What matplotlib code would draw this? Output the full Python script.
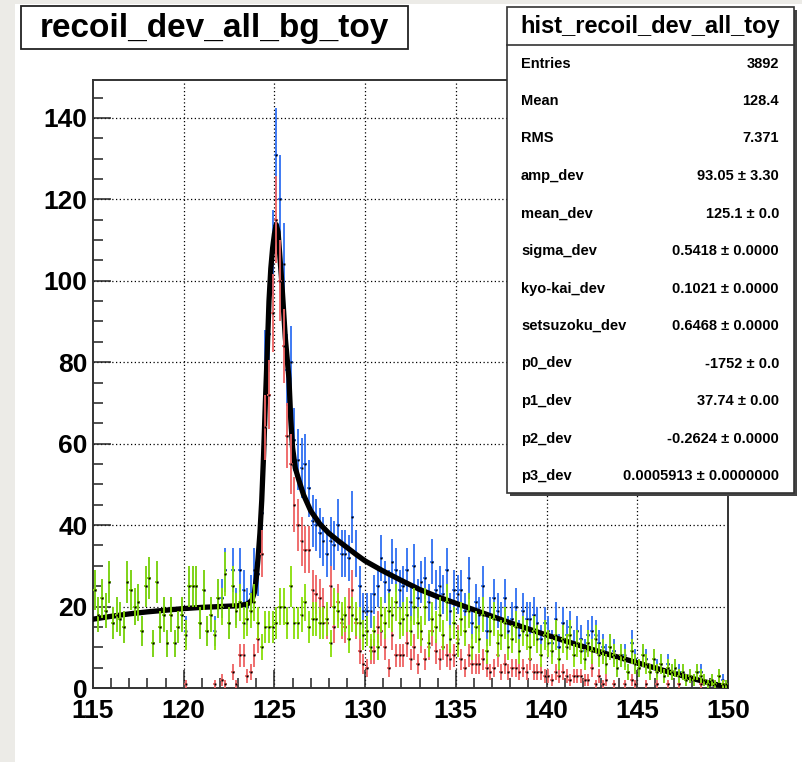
import numpy as np
import matplotlib.pyplot as plt
from matplotlib.patches import Rectangle
from matplotlib.ticker import MultipleLocator

plt.rcParams['font.family'] = ['Liberation Sans', 'DejaVu Sans']

W, H = 802, 762

# histogram binning (0.2 wide bins from 115 to 150)
bin_lo = 115.0
bin_w = 0.2

# blue: all events (hist_recoil_dev_all_toy), one row per unit of x
total = [
    24, 18, 22, 19, 26,   16, 18, 17, 15, 26,   24, 20, 21, 14, 25,
    27, 11, 26, 15, 18,   11, 18, 11, 15, 18,   14, 25, 25, 25, 16,
    24, 14, 18, 14, 22,   22, 29, 16, 29, 20,   29, 24, 20, 23, 29,
    28, 43, 79, 87, 107,  131, 120, 104, 78, 80, 61, 56, 54, 55, 49,
    41, 40, 38, 36, 33,   36, 35, 40, 33, 33,   32, 42, 33, 25, 19,
    19, 19, 23, 25, 32,   26, 24, 31, 29, 24,   25, 29, 21, 30, 22,
    26, 27, 21, 31, 24,   25, 23, 29, 19, 24,   23, 24, 19, 27, 16,
    21, 18, 25, 14, 18,   22, 19, 17, 22, 14,   17, 20, 13, 19, 17,
    17, 18, 16, 12, 16,   14, 11, 17, 10, 16,   13, 15, 11, 14, 12,
    9, 13, 14, 13, 11,    10, 8, 10, 9, 5,      8, 8, 4, 11, 7,
    5, 8, 7, 4, 7,        5, 6, 3, 6, 4,        5, 4, 4, 2, 3,
    2, 4, 4, 2, 1,        2, 1, 3, 2, 1,
]

# red: signal part
signal = [
    0, 0, 0, 0, 0,        0, 0, 0, 0, 0,        0, 0, 0, 0, 0,
    0, 0, 0, 0, 0,        0, 0, 0, 0, 0,        1, 0, 0, 0, 0,
    0, 0, 0, 1, 0,        2, 1, 0, 4, 1,        8, 8, 3, 4, 8,
    12, 33, 64, 72, 92,   115, 100, 84, 62, 55, 45, 40, 36, 34, 34,
    24, 23, 22, 20, 16,   25, 15, 21, 16, 15,   20, 24, 16, 9, 6,
    5, 9, 9, 15, 14,      10, 5, 13, 8, 8,      8, 11, 7, 10, 6,
    12, 7, 10, 14, 9,     7, 10, 8, 7, 8,       12, 7, 5, 8, 6,
    6, 6, 7, 5, 4,        5, 8, 4, 6, 4,        5, 5, 4, 5, 4,
    7, 4, 4, 4, 3,        3, 2, 4, 3, 4,        3, 2, 3, 3, 3,
    2, 2, 5, 1, 3,        1, 2, 0, 1, 0,        0, 1, 0, 2, 1,
    0, 0, 1, 0, 0,        1, 0, 0, 1, 0,        0, 1, 0, 0, 0,
    0, 0, 1, 0, 0,        0, 0, 0, 1, 0,
]

# green: background toy
background = [
    24, 18, 22, 19, 26,   16, 18, 17, 15, 26,   24, 20, 21, 14, 25,
    27, 11, 26, 15, 18,   11, 18, 11, 15, 18,   13, 25, 25, 25, 16,
    24, 14, 18, 13, 22,   20, 28, 16, 25, 19,   21, 16, 17, 19, 21,
    16, 10, 15, 15, 15,   16, 20, 20, 16, 25,   16, 16, 18, 21, 15,
    17, 17, 16, 16, 17,   11, 20, 19, 17, 18,   12, 18, 17, 16, 13,
    14, 10, 14, 10, 18,   16, 19, 18, 21, 16,   17, 18, 14, 20, 16,
    14, 20, 11, 17, 15,   18, 13, 21, 12, 16,   11, 17, 14, 19, 10,
    15, 12, 18, 9, 14,    17, 11, 13, 16, 10,   12, 15, 9, 14, 13,
    10, 14, 12, 8, 13,    11, 9, 13, 7, 12,     10, 13, 8, 11, 9,
    7, 11, 9, 12, 8,      9, 6, 10, 8, 5,       8, 7, 4, 9, 6,
    5, 8, 6, 4, 7,        4, 6, 3, 5, 4,        5, 3, 4, 2, 3,
    2, 4, 3, 2, 1,        2, 1, 3, 1, 1,
]

# fitted function
fit_x = [115.0, 116.0, 117.0, 118.0, 119.0, 120.0, 121.0, 122.0, 123.0, 123.5,
         123.75, 123.9, 124.0, 124.1, 124.2, 124.3, 124.4, 124.5, 124.6, 124.7,
         124.8, 124.9, 125.0, 125.1, 125.2, 125.3, 125.4, 125.5, 125.6, 125.7,
         125.8, 125.9, 126.0, 126.15, 126.35, 126.6, 127.0, 127.5, 128.0, 128.5,
         129.0, 129.5, 130.0, 131.0, 132.0, 133.0, 134.0, 135.0, 136.0, 137.0,
         138.0, 139.0, 140.0, 141.0, 142.0, 143.0, 144.0, 145.0, 146.0, 147.0,
         148.0, 149.0, 150.0]
fit_y = [16.9, 17.6, 18.2, 18.7, 19.1, 19.5, 19.8, 20.0, 20.2, 20.6,
         21.5, 23.5, 27.0, 32.0, 38.0, 46.0, 57.0, 70.0, 82.0, 95.0,
         103.0, 108.0, 111.5, 113.8, 112.0, 106.0, 100.0, 93.0, 86.0, 81.0,
         76.0, 66.0, 59.0, 54.0, 51.0, 47.5, 43.5, 40.3, 38.0, 36.2,
         34.5, 32.8, 31.2, 28.7, 26.4, 24.2, 22.4, 20.8, 19.2, 17.6,
         16.0, 14.5, 13.0, 11.6, 10.2, 8.8, 7.5, 6.2, 4.9, 3.6,
         2.4, 1.2, 0.2]

hist_title = 'recoil_dev_all_bg_toy'
stat_title = 'hist_recoil_dev_all_toy'
stat_names = ['Entries', 'Mean', 'RMS', 'amp_dev', 'mean_dev', 'sigma_dev',
              'kyo-kai_dev', 'setsuzoku_dev', 'p0_dev', 'p1_dev', 'p2_dev', 'p3_dev']
stat_values = ['3892', '128.4', '7.371', '93.05 ± 3.30', '125.1 ± 0.0',
               '0.5418 ± 0.0000', '0.1021 ± 0.0000', '0.6468 ± 0.0000',
               '-1752 ± 0.0', '37.74 ± 0.00', '-0.2624 ± 0.0000',
               '0.0005913 ± 0.0000000']

col_total = '#2f6ff2'
col_signal = '#ee6262'
col_bkg = '#88de08'


def fx(px):
    return px / W


def fy(py):
    return 1 - py / H


fig = plt.figure(figsize=(W / 100, H / 100), dpi=100, facecolor='white')

# grey window border on the left and top
fig.add_artist(Rectangle((0, 0), fx(15), 1, transform=fig.transFigure,
                         facecolor='#ecebe7', edgecolor='none', zorder=0))
fig.add_artist(Rectangle((0, fy(4)), 1, 4 / H, transform=fig.transFigure,
                         facecolor='#ecebe7', edgecolor='none', zorder=0))

ax = fig.add_axes([fx(93), fy(688), fx(728) - fx(93), fy(80) - fy(688)])
ax.set_xlim(115, 150)
ax.set_ylim(0, 149.3)

centers = bin_lo + bin_w * (np.arange(len(total)) + 0.5)


def draw_hist(counts, color, z):
    c = np.array(counts, dtype=float)
    m = c > 0
    ax.errorbar(centers[m], c[m], xerr=bin_w / 2, yerr=np.sqrt(c[m]), fmt='none',
                ecolor=color, elinewidth=1.3, capsize=0, zorder=z)
    ax.plot(centers[m], c[m], 's', ms=1.4, color='black', mec='none', zorder=z + 0.1)


draw_hist(total, col_total, 2)
ax.plot(fit_x, fit_y, color='black', lw=3.8, zorder=3, solid_joinstyle='round')
draw_hist(signal, col_signal, 4)
draw_hist(background, col_bkg, 5)

# dotted grid
for gx in [120, 125, 130, 135, 140, 145]:
    ax.axvline(gx, color='black', lw=0.9, ls=(0, (1, 2)), zorder=1)
for gy in [20, 40, 60, 80, 100, 120, 140]:
    ax.axhline(gy, color='black', lw=0.9, ls=(0, (1, 2)), zorder=1)

ax.xaxis.set_major_locator(MultipleLocator(5))
ax.xaxis.set_minor_locator(MultipleLocator(1))
ax.yaxis.set_major_locator(MultipleLocator(20))
ax.yaxis.set_minor_locator(MultipleLocator(5))
ax.tick_params(which='both', direction='in', top=False, right=False, width=1.1,
               color='#222222')
ax.tick_params(which='major', length=13)
ax.tick_params(which='minor', length=7)
ax.tick_params(axis='x', pad=8)
ax.tick_params(axis='y', pad=4)
for lab in ax.get_xticklabels() + ax.get_yticklabels():
    lab.set_fontsize(19)
    lab.set_fontweight('bold')
for s in ax.spines.values():
    s.set_linewidth(1.4)
    s.set_color('#333333')

# title box
fig.add_artist(Rectangle((fx(21), fy(49)), fx(408) - fx(21), fy(6) - fy(49),
                         transform=fig.transFigure, facecolor='white',
                         edgecolor='#222222', lw=1.3, zorder=6))
fig.text(fx(214.5), fy(28), hist_title, ha='center', va='center', fontsize=24,
         fontweight='bold', zorder=7)

# stats box with shadow
fig.add_artist(Rectangle((fx(510), fy(496)), fx(797) - fx(510), fy(10) - fy(496),
                         transform=fig.transFigure, facecolor='#444444',
                         edgecolor='none', zorder=6))
fig.add_artist(Rectangle((fx(507), fy(493)), fx(794) - fx(507), fy(7) - fy(493),
                         transform=fig.transFigure, facecolor='white',
                         edgecolor='#333333', lw=1.2, zorder=6.5))
fig.add_artist(plt.Line2D([fx(507), fx(794)], [fy(45), fy(45)],
                          transform=fig.transFigure, color='#333333', lw=1.2,
                          zorder=7))
fig.text(fx(650.5), fy(26), stat_title, ha='center', va='center', fontsize=17,
         fontweight='bold', zorder=7)
for i, (name, val) in enumerate(zip(stat_names, stat_values)):
    yy = fy(63.5 + 37.5 * i)
    fig.text(fx(521), yy, name, ha='left', va='center', fontsize=10.5,
             fontweight='bold', zorder=7)
    fig.text(fx(779), yy, val, ha='right', va='center', fontsize=10.5,
             fontweight='bold', zorder=7)

fig.savefig('out.png', dpi=100, facecolor='white')
